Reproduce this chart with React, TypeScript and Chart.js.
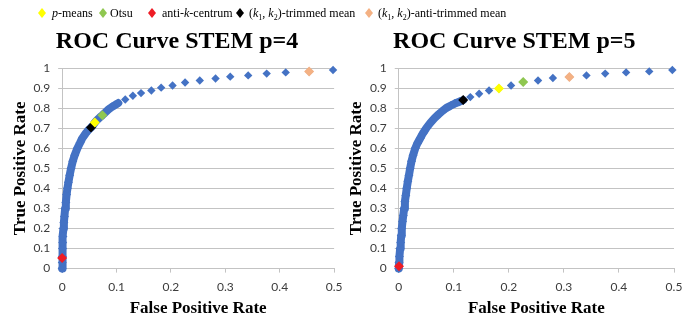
import React, { useEffect, useRef } from "react";
import { Chart, registerables } from "chart.js";
Chart.register(...registerables);

// ---- data ----
const methodNames = ["p-means", "Otsu", "anti-k-centrum", "(k1, k2)-trimmed mean", "(k1, k2)-anti-trimmed mean"];
const methodColors = ["#FFFF00", "#8FC750", "#EE1C25", "#000000", "#F4B183"];
const rocColor = "#4472C4";

const xTickStep = 0.1;
const yTickStep = 0.1;

// STEM p=4
const p4DenseFpr = [0, 0.0002, 0.0004, 0.0007, 0.001, 0.0015, 0.0024, 0.0032, 0.0042, 0.0055, 0.0068, 0.0082, 0.0097, 0.0115, 0.0138, 0.0164, 0.0195, 0.023, 0.028, 0.033, 0.037, 0.043, 0.048, 0.053, 0.057, 0.06, 0.064, 0.069, 0.074, 0.079, 0.085, 0.091, 0.097, 0.103];
const p4DenseTpr = [0, 0.03, 0.06, 0.1, 0.13, 0.16, 0.2, 0.23, 0.26, 0.3, 0.33, 0.37, 0.4, 0.43, 0.465, 0.5, 0.535, 0.565, 0.6, 0.627, 0.65, 0.673, 0.69, 0.703, 0.716, 0.728, 0.74, 0.753, 0.765, 0.778, 0.793, 0.805, 0.815, 0.825];
const p4SparseFpr = [0.116, 0.13, 0.145, 0.164, 0.182, 0.203, 0.226, 0.253, 0.282, 0.309, 0.342, 0.376, 0.411, 0.454, 0.498];
const p4SparseTpr = [0.843, 0.862, 0.875, 0.888, 0.902, 0.913, 0.928, 0.938, 0.948, 0.957, 0.963, 0.972, 0.978, 0.982, 0.99];
const p4MarkFpr = [0.06, 0.074, 0.0, 0.053, 0.454];
const p4MarkTpr = [0.728, 0.765, 0.053, 0.703, 0.982];

// STEM p=5
const p5DenseFpr = [0, 0.0005, 0.0012, 0.0025, 0.0035, 0.0045, 0.0055, 0.0068, 0.0082, 0.0098, 0.0112, 0.0128, 0.0145, 0.0165, 0.0185, 0.0207, 0.0232, 0.026, 0.03, 0.034, 0.039, 0.044, 0.05, 0.057, 0.065, 0.072, 0.079, 0.086, 0.094, 0.102, 0.11, 0.117];
const p5DenseTpr = [0, 0.03, 0.06, 0.1, 0.13, 0.165, 0.2, 0.235, 0.265, 0.3, 0.335, 0.365, 0.4, 0.435, 0.465, 0.5, 0.535, 0.565, 0.6, 0.625, 0.65, 0.675, 0.7, 0.725, 0.75, 0.768, 0.785, 0.8, 0.812, 0.823, 0.832, 0.84];
const p5SparseFpr = [0.13, 0.146, 0.164, 0.182, 0.204, 0.226, 0.253, 0.28, 0.31, 0.341, 0.375, 0.413, 0.455, 0.497];
const p5SparseTpr = [0.855, 0.872, 0.888, 0.898, 0.913, 0.93, 0.938, 0.95, 0.955, 0.963, 0.972, 0.978, 0.983, 0.99];
const p5MarkFpr = [0.182, 0.226, 0.0005, 0.117, 0.31];
const p5MarkTpr = [0.898, 0.93, 0.012, 0.84, 0.955];

const zip = (xs: number[], ys: number[]) => xs.map((x, i) => ({ x, y: ys[i] }));
const fmt = (v: number | string) => String(Math.round(Number(v) * 10) / 10);

const SERIF = '"Liberation Serif", "Times New Roman", serif';
const SANS = 'Lato, "Open Sans", sans-serif';
const GRID = "#c3c3c3";
const TICK = "#3c3c3c";

function makeConfig(title: string, dFpr: number[], dTpr: number[], sFpr: number[], sTpr: number[], mFpr: number[], mTpr: number[], padLeft: number, padRight: number): any {
  const markSets = methodNames.map((name, i) => ({
    label: name,
    data: [{ x: mFpr[i], y: mTpr[i] }],
    pointStyle: "rectRot",
    pointRadius: 5,
    pointBorderWidth: 0,
    backgroundColor: methodColors[i],
    borderColor: methodColors[i],
    showLine: false,
    clip: false,
  }));
  return {
    type: "scatter",
    data: {
      datasets: [
        ...markSets,
        {
          label: "ROC sparse",
          data: zip(sFpr, sTpr),
          pointStyle: "rectRot",
          pointRadius: 4.2,
          pointBorderWidth: 0,
          backgroundColor: rocColor,
          borderColor: rocColor,
          showLine: false,
          clip: false,
        },
        {
          label: "ROC dense",
          data: zip(dFpr, dTpr),
          pointStyle: "rectRot",
          pointRadius: 4.5,
          pointBorderWidth: 0,
          backgroundColor: rocColor,
          borderColor: rocColor,
          borderWidth: 8,
          borderJoinStyle: "round",
          borderCapStyle: "round",
          showLine: true,
          clip: false,
        },
      ],
    },
    options: {
      responsive: false,
      animation: false,
      events: [],
      layout: { padding: { left: padLeft, right: padRight, top: 0, bottom: 0 } },
      plugins: {
        legend: { display: false },
        tooltip: { enabled: false },
        title: {
          display: true,
          text: title,
          color: "#000",
          font: { family: SERIF, size: 24, weight: "bold" },
          padding: { top: 27, bottom: 12.2 },
        },
      },
      scales: {
        x: {
          type: "linear",
          min: 0,
          max: 0.5,
          ticks: { stepSize: xTickStep, color: TICK, font: { family: SANS, size: 12 }, padding: 7.5, maxRotation: 0, callback: fmt },
          grid: { drawOnChartArea: false, drawTicks: true, tickLength: 4, color: GRID },
          border: { display: true, color: GRID },
          title: {
            display: true,
            text: "False Positive Rate",
            color: "#000",
            font: { family: SERIF, size: 17, weight: "bold" },
            padding: { top: -4, bottom: 3.6 },
          },
        },
        y: {
          type: "linear",
          min: 0,
          max: 1,
          ticks: { stepSize: yTickStep, color: TICK, font: { family: SANS, size: 12 }, padding: 8, callback: fmt },
          grid: { color: GRID, tickLength: 4 },
          border: { display: true, color: GRID },
          title: {
            display: true,
            text: "True Positive Rate",
            color: "#000",
            font: { family: SERIF, size: 17, weight: "bold" },
            padding: { top: -8, bottom: -5 },
          },
        },
      },
    },
  };
}

function RocChart(props: { cfg: () => any; left: number; width: number }) {
  const ref = useRef<HTMLCanvasElement | null>(null);
  useEffect(() => {
    if (!ref.current) return;
    const chart = new Chart(ref.current, props.cfg());
    return () => chart.destroy();
  }, []);
  return (
    <canvas
      ref={ref}
      width={props.width}
      height={322}
      style={{ position: "absolute", left: props.left, top: 0, width: props.width, height: 322 }}
    />
  );
}

function Diamond({ color }: { color: string }) {
  return (
    <svg width={8} height={10} style={{ position: "absolute", left: -4, top: 3 }}>
      <polygon points="0,5 4,0 8,5 4,10" fill={color} />
    </svg>
  );
}

const subStyle = { fontSize: 8 };
const legendItems: { x: number; tx: number; content: React.ReactNode }[] = [
  { x: 42, tx: 52, content: (<span><i>p</i>-means</span>) },
  { x: 103, tx: 110, content: (<span>Otsu</span>) },
  { x: 152, tx: 162, content: (<span>anti-<i>k</i>-centrum</span>) },
  { x: 240, tx: 249, content: (<span>(<i>k</i><sub style={subStyle}>1</sub>, <i>k</i><sub style={subStyle}>2</sub>)-trimmed mean</span>) },
  { x: 369, tx: 378, content: (<span>(<i>k</i><sub style={subStyle}>1</sub>, <i>k</i><sub style={subStyle}>2</sub>)-anti-trimmed mean</span>) },
];

export default function App() {
  return (
    <div style={{ position: "fixed", left: 0, top: 0, width: 700, height: 322, background: "#fff", overflow: "hidden" }}>
      <RocChart
        left={0}
        width={350}
        cfg={() => makeConfig("ROC Curve STEM p=4", p4DenseFpr, p4DenseTpr, p4SparseFpr, p4SparseTpr, p4MarkFpr, p4MarkTpr, 18, 14)}
      />
      <RocChart
        left={342}
        width={350}
        cfg={() => makeConfig("ROC Curve STEM p=5", p5DenseFpr, p5DenseTpr, p5SparseFpr, p5SparseTpr, p5MarkFpr, p5MarkTpr, 12.6, 18)}
      />
      {legendItems.map((it, i) => (
        <div key={i}>
          <div style={{ position: "absolute", left: it.x, top: 5, width: 0, height: 16 }}>
            <Diamond color={methodColors[i]} />
          </div>
          <div
            style={{
              position: "absolute",
              left: it.tx,
              top: 5,
              height: 16,
              lineHeight: "16px",
              fontFamily: SERIF,
              fontSize: 12,
              color: "#000",
              whiteSpace: "nowrap",
            }}
          >
            {it.content}
          </div>
        </div>
      ))}
    </div>
  );
}
